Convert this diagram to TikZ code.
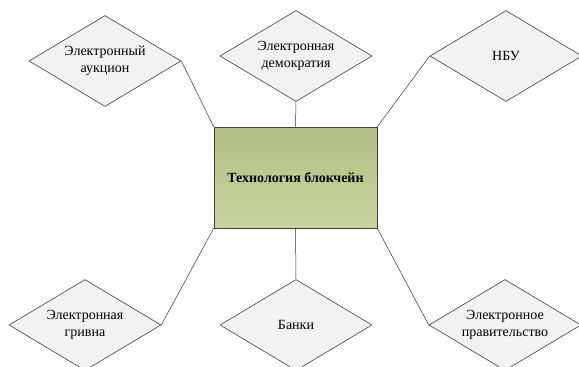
\documentclass[tikz,border=0pt]{standalone}
\usepackage{fontspec}
\setmainfont{Liberation Serif}
\usetikzlibrary{shapes.geometric}
\definecolor{rhombfill}{RGB}{242,242,242}
\definecolor{rhombline}{RGB}{64,64,64}
\definecolor{coretop}{RGB}{178,191,130}
\definecolor{corebottom}{RGB}{199,212,158}
\tikzset{
    branch/.style={
        diamond, aspect=1.67, inner sep=0pt,
        minimum width=152, minimum height=91,
        draw=rhombline, fill=rhombfill, line width=0.6pt,
        align=center, font=\fontsize{14}{17}\selectfont
    },
    core/.style={
        rectangle, minimum width=163, minimum height=101,
        draw=rhombline, line width=0.6pt,
        top color=coretop, bottom color=corebottom,
        font=\fontsize{14}{17}\selectfont\bfseries
    },
    link/.style={draw=black!80, line width=0.5pt}
}

\begin{document}
\begin{tikzpicture}[x=1pt, y=-1pt]
		\useasboundingbox (0,0) rectangle (579,367);

		% Centre
		\node[core] (chain) at (295.5,177.5) {Технология блокчейн};

		% Top row
		\node[branch] (auction) at (105,61) {Электронный\\аукцион};
		\node[branch] (democracy) at (296,56) {Электронная\\демократия};
		\node[branch] (nbu) at (506,56) {НБУ};

		% Bottom row
		\node[branch] (hryvnia) at (85,325) {Электронная\\гривна};
		\node[branch] (banks) at (296,325) {Банки};
		\node[branch] (government) at (505,325) {Электронное\\правительство};

		% Links
		\draw[link] (auction.east) -- (chain.north west);
		\draw[link] (democracy.south) -- (chain.north);
		\draw[link] (nbu.west) -- (chain.north east);
		\draw[link] (chain.south west) -- (hryvnia.east);
		\draw[link] (chain.south) -- (banks.north);
		\draw[link] (chain.south east) -- (government.west);

	\end{tikzpicture}
\end{document}
